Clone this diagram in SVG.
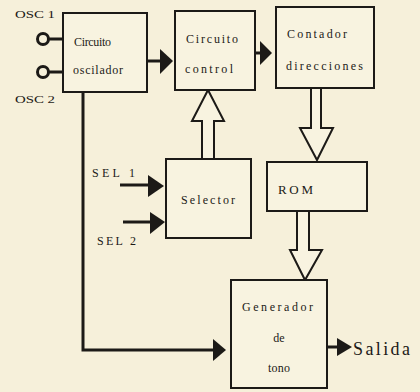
<svg xmlns="http://www.w3.org/2000/svg" width="420" height="392" viewBox="0 0 420 392">
<style>
.bg{fill:#f6f0da}
.box{fill:#f8f3e0;stroke:#1c1a17;stroke-width:2}
.t{font-family:"Liberation Serif","DejaVu Serif",serif;font-size:12px;fill:#1c1a17}
.tm{text-anchor:middle}
.ln{fill:none;stroke:#1c1a17;stroke-width:3}
.sh{fill:#f8f3e0;stroke:#1c1a17;stroke-width:2;stroke-linejoin:miter}
.ah{fill:#1c1a17}
.pin{fill:none;stroke:#1c1a17;stroke-width:3}
</style>
<rect class="bg" x="0" y="0" width="420" height="392"/>

<g id="connectors">
  <circle class="pin" cx="43" cy="39" r="5.5"/>
  <line class="ln" x1="48" y1="39" x2="63" y2="39" stroke-width="2.5"/>
  <circle class="pin" cx="43" cy="72" r="5.5"/>
  <line class="ln" x1="48" y1="72" x2="63" y2="72" stroke-width="2.5"/>
  <line class="ln" x1="147" y1="61" x2="162" y2="61" stroke-width="6"/>
  <polygon class="ah" points="160,49 173,61 160,74"/>
  <line class="ln" x1="255" y1="53" x2="262" y2="53" stroke-width="5"/>
  <polygon class="ah" points="260,41 272,53 260,65"/>
  <polygon class="sh" points="311,88 321,88 321,128 333,128 317,160 300,128 311,128"/>
  <polygon class="sh" points="297,211 309,211 309,250 322,250 305,280 290,250 297,250"/>
  <polygon class="sh" points="202,159 214,159 214,121 224,121 208,90 192,121 202,121"/>
  <line class="ln" x1="120" y1="185" x2="151" y2="185" stroke-width="5"/>
  <polygon class="ah" points="148,175 164,186 148,197"/>
  <line class="ln" x1="123" y1="222" x2="152" y2="222" stroke-width="5"/>
  <polygon class="ah" points="150,212 165,222 150,234"/>
  <polyline class="ln" points="83,92 83,350 214,350"/>
  <polygon class="ah" points="213,339 226,350 213,361"/>
  <line class="ln" x1="327" y1="347" x2="339" y2="347" stroke-width="5"/>
  <polygon class="ah" points="337,338 352,347 337,356"/>
</g>

<g id="label-osc1"><text class="t" x="15" y="18" style="font-size:11px" textLength="40" lengthAdjust="spacingAndGlyphs">OSC 1</text></g>
<g id="label-osc2"><text class="t" x="15" y="103" style="font-size:11px" textLength="40" lengthAdjust="spacingAndGlyphs">OSC 2</text></g>
<g id="label-sel1"><text class="t" x="92" y="177" textLength="43">SEL 1</text></g>
<g id="label-sel2"><text class="t" x="97" y="245" textLength="39">SEL 2</text></g>
<g id="label-salida"><text class="t" x="353" y="355" style="font-size:18px" textLength="57">Salida</text></g>

<g id="osc">
  <rect class="box" x="63" y="13" width="84" height="79"/>
  <text class="t" x="74" y="46" textLength="37">Circuito</text>
  <text class="t" x="73" y="74" textLength="50">oscilador</text>
</g>
<g id="control">
  <rect class="box" x="175" y="11" width="80" height="79"/>
  <text class="t" x="186" y="43" textLength="52">Circuito</text>
  <text class="t" x="185" y="73" textLength="48">control</text>
</g>
<g id="contador">
  <rect class="box" x="276" y="7" width="98" height="81"/>
  <text class="t" x="287" y="38" textLength="60">Contador</text>
  <text class="t" x="286" y="70" textLength="77">direcciones</text>
</g>
<g id="selector">
  <rect class="box" x="166" y="159" width="85" height="79"/>
  <text class="t" x="181" y="204" textLength="54">Selector</text>
</g>
<g id="rom">
  <rect class="box" x="267" y="162" width="100" height="49"/>
  <text class="t" x="278" y="194" style="font-size:13px" textLength="35">ROM</text>
</g>
<g id="generador">
  <rect class="box" x="231" y="280" width="96" height="108"/>
  <text class="t" x="242" y="311" textLength="71">Generador</text>
  <text class="t tm" x="279" y="342">de</text>
  <text class="t tm" x="279" y="372" textLength="22">tono</text>
</g>
</svg>
